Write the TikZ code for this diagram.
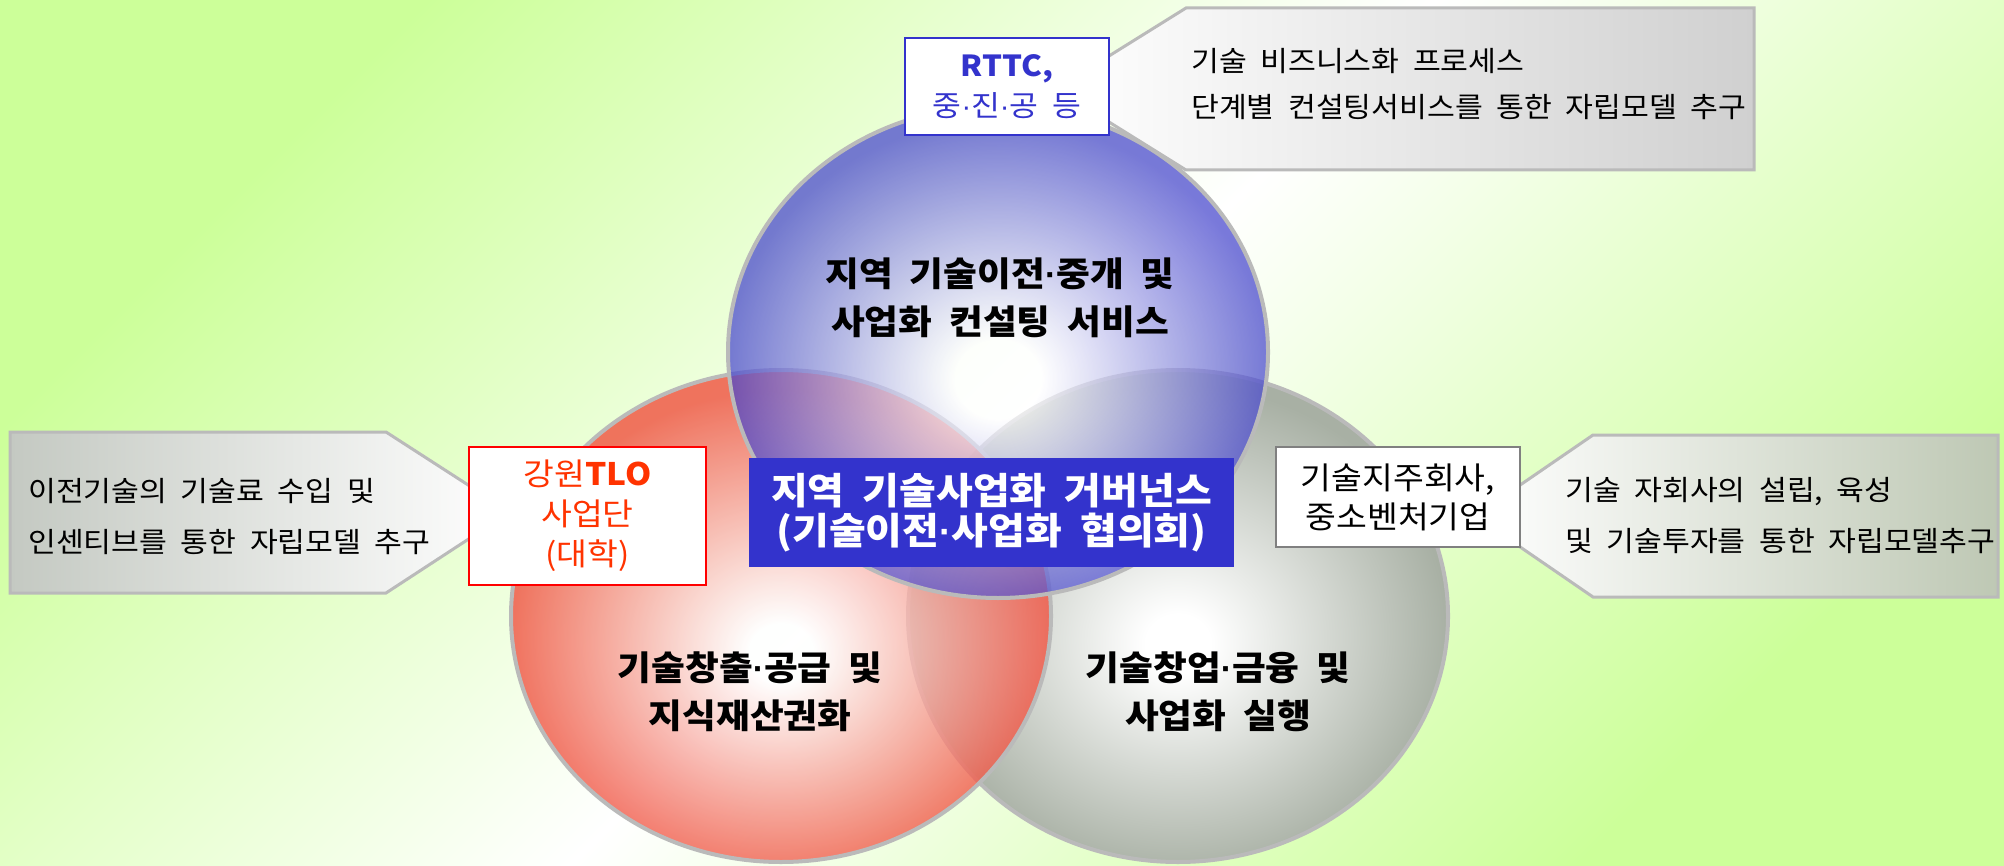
\documentclass[tikz,border=0pt]{standalone}
\usepackage{fontspec}
\setmainfont{Noto Sans CJK KR}[WordSpace=2, FakeStretch=1.08]
\newfontfamily\mdfont{Liberation Sans}
\newcommand{\mdt}{{\mdfont ·}}
\usetikzlibrary{shapes.geometric}
\definecolor{bgG}{RGB}{204,255,153}
\definecolor{bluE}{RGB}{70,70,205}
\definecolor{redE}{RGB}{240,80,62}
\definecolor{grayE}{RGB}{168,176,164}
\definecolor{ringC}{RGB}{186,186,186}
\definecolor{boxBlue}{RGB}{51,51,204}
\definecolor{tloRed}{RGB}{255,51,0}
\definecolor{calL}{RGB}{196,201,194}
\definecolor{calR}{RGB}{190,200,180}
\definecolor{calT}{RGB}{208,208,208}
\pgfdeclareradialshading{blueshade}{\pgfpoint{0bp}{-3bp}}{color(0bp)=(white); color(4bp)=(white); color(25bp)=(bluE); color(50bp)=(bluE)}
\pgfdeclareradialshading{redshade}{\pgfpoint{0bp}{-4bp}}{color(0bp)=(white); color(3bp)=(white); color(25bp)=(redE); color(50bp)=(redE)}
\pgfdeclareradialshading{grayshade}{\pgfpoint{0bp}{-3bp}}{color(0bp)=(white); color(3bp)=(white); color(25bp)=(grayE); color(50bp)=(grayE)}
\tikzset{
  ell/.style={ellipse, minimum width=540pt, minimum height=492pt, inner sep=0pt, draw=ringC, line width=4pt},
  calloutshape/.style={draw=ringC, line width=3pt},
  calltext/.style={inner sep=0pt, anchor=west, align=left, font=\fontsize{28}{51}\selectfont},
  elltext/.style={inner sep=0pt, align=center, font=\fontsize{34}{48}\selectfont\bfseries},
  labbox/.style={fill=white, line width=2.5pt, inner sep=0pt, align=center}
}
\begin{document}
\begin{tikzpicture}[x=1pt,y=-1pt]
\useasboundingbox (0,0) rectangle (2004,866);
% background
\shade[top color=bgG, bottom color=bgG, middle color=white, shading angle=45] (0,0) rectangle (2004,866);
% ellipses
\node[ell, shade, shading=grayshade] (grayEll) at (1178,616) {};
\node[ell, shade, shading=redshade, fill opacity=0.8] (redEll) at (781,616) {};
\node[ell, shade, shading=blueshade, fill opacity=0.72] (blueEll) at (998,352) {};
% callouts
\shade[calloutshape, left color=white, right color=calT] (1186,8) -- (1754,8) -- (1754,170) -- (1186,170) -- (1056,89) -- cycle;
\shade[calloutshape, left color=calL, right color=white] (10,432) -- (386,432) -- (510,512) -- (386,593) -- (10,593) -- cycle;
\shade[calloutshape, left color=white, right color=calR] (1475,516) -- (1593,435) -- (1998,435) -- (1998,597) -- (1593,597) -- cycle;
% callout texts
\node[calltext, font=\fontsize{28}{46}\selectfont] (topTxt) at (1191,84) {기술 비즈니스화 프로세스\\단계별 컨설팅서비스를 통한 자립모델 추구};
\node[calltext] (leftTxt) at (28,517) {이전기술의 기술료 수입 및\\인센티브를 통한 자립모델 추구};
\node[calltext] (rightTxt) at (1565,516) {기술 자회사의 설립, 육성\\및 기술투자를 통한 자립모델추구};
% label boxes
\node[labbox, draw=boxBlue, text=boxBlue, minimum width=204pt, minimum height=97pt, font=\fontsize{29}{40}\selectfont] (rttc) at (1007,86.5) {{\bfseries RTTC,}\\중\mdt 진\mdt 공 등};
\node[labbox, draw=red, text=tloRed, minimum width=237pt, minimum height=138pt, font=\fontsize{31}{40}\selectfont] (tlo) at (587.5,516) {강원{\bfseries TLO}\\사업단\\(대학)};
\node[labbox, draw=gray, text=black, minimum width=244pt, minimum height=100pt, font=\fontsize{31}{39}\selectfont] (holding) at (1398,497) {기술지주회사,\\중소벤처기업};
\node[fill=boxBlue, text=white, inner sep=0pt, align=center, minimum width=485pt, minimum height=109pt, font=\fontsize{37}{40}\selectfont\bfseries] (gov) at (991.5,512.5) {지역 기술사업화 거버넌스\\(기술이전\mdt 사업화 협의회)};
% ellipse texts
\node[elltext] (blueTxt) at (1000,298) {지역 기술이전\mdt 중개 및\\사업화 컨설팅 서비스};
\node[elltext] (redTxt) at (750,692) {기술창출\mdt 공급 및\\지식재산권화};
\node[elltext] (grayTxt) at (1218,692) {기술창업\mdt 금융 및\\사업화 실행};
\end{tikzpicture}
\end{document}
